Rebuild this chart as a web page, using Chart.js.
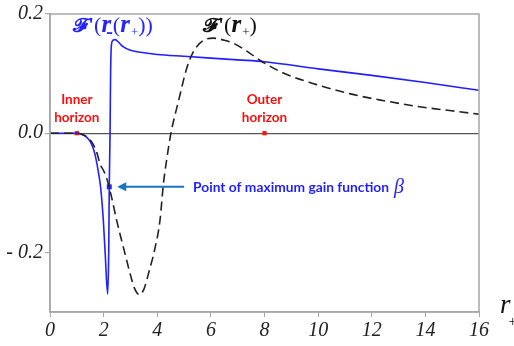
<!DOCTYPE html>
<html>
<head>
<meta charset="utf-8">
<script src="https://cdn.jsdelivr.net/npm/chart.js@4.4.1/dist/chart.umd.min.js"></script>
<style>
  html, body { margin: 0; padding: 0; background: #fff; }
  #wrap { width: 514px; height: 346px; }
</style>
</head>
<body>
<div id="wrap"><canvas id="plot" width="514" height="346"></canvas></div>
<script>
// F'(r-(r+)) : solid blue curve
const innerR = [0, 0.5, 1.0, 1.2, 1.35, 1.49, 1.6, 1.68, 1.8, 1.89, 1.99, 2.06, 2.15, 2.19, 2.21, 2.23, 2.24, 2.26, 2.29, 2.35, 2.43, 2.55, 2.7, 3.0, 3.5, 4, 5, 6, 7, 8, 10, 12, 14, 16];
const innerF = [0, 0, 0, -0.002, -0.006, -0.0134, -0.024, -0.036, -0.064, -0.0915, -0.147, -0.203, -0.27, -0.2, -0.09, -0.03, 0.0, 0.1, 0.148, 0.156, 0.157, 0.153, 0.146, 0.139, 0.135, 0.132, 0.129, 0.126, 0.123, 0.12, 0.108, 0.097, 0.085, 0.072];

// F'(r+) : dashed black curve
const outerR = [0, 0.5, 1.0, 1.2, 1.4, 1.6, 1.75, 1.87, 2.0, 2.11, 2.3, 2.49, 2.74, 2.99, 3.15, 3.33, 3.5, 3.67, 3.92, 4.1, 4.23, 4.38, 4.51, 4.79, 5.1, 5.35, 5.7, 6.08, 6.5, 6.84, 7.46, 7.84, 8.7, 9.95, 11.2, 12.4, 13.7, 14.9, 16];
const outerF = [0, 0, 0, -0.002, -0.007, -0.018, -0.033, -0.052, -0.063, -0.075, -0.108, -0.147, -0.192, -0.236, -0.26, -0.271, -0.262, -0.236, -0.192, -0.147, -0.085, -0.036, 0, 0.0535, 0.109, 0.137, 0.155, 0.1595, 0.156, 0.151, 0.134, 0.122, 0.101, 0.0815, 0.066, 0.055, 0.045, 0.038, 0.032];

// horizons and the point of maximum gain
const horizonR = [1.0, 8.0];
const horizonF = [0, 0];
const gainR = [2.21];
const gainF = [-0.09];

const xTicks = [0, 2, 4, 6, 8, 10, 12, 14, 16];
const yTicks = [-0.2, 0, 0.2];

const pts = (xs, ys) => xs.map((v, i) => ({ x: v, y: ys[i] }));

const SERIF = "'Liberation Serif', 'DejaVu Serif', serif";
const SANS = "Lato, 'Open Sans', sans-serif";

function drawRuns(ctx, x0, base, runs, color) {
  let x = x0;
  ctx.fillStyle = color;
  ctx.textAlign = 'left';
  ctx.textBaseline = 'alphabetic';
  runs.forEach(([t, font, dy = 0, dx = 0]) => {
    ctx.font = font;
    ctx.fillText(t, x + dx, base + dy);
    x += dx + ctx.measureText(t).width;
  });
  return x;
}

const overlay = {
  id: 'overlay',
  afterDatasetsDraw(chart) {
    const { ctx, chartArea: a, scales: { x, y } } = chart;
    ctx.save();

    // frame
    ctx.strokeStyle = '#a6a6a6';
    ctx.lineWidth = 1.5;
    ctx.strokeRect(a.left, a.top, a.right - a.left, a.bottom - a.top);

    // curve titles
    const F = "bold 20px 'DejaVu Serif', serif";
    const P = '22px ' + SERIF;
    const Q = 'bold 22px ' + SERIF;
    const R = 'bold italic 25px ' + SERIF;
    drawRuns(ctx, 73, 32, [
      ['𝓕', F], ["'", Q], ['(', P], ['r', R], ['-', 'bold 20px ' + SERIF, 6, -5],
      ['(', P], ['r', R], ['+', '13px ' + SERIF, 4, 1], ['))', P]
    ], '#2424ff');
    drawRuns(ctx, 203, 32, [
      ['𝓕', F], ["'", Q], ['(', P], ['r', R], ['+', '13px ' + SERIF, 4, 1], [')', P]
    ], '#111');

    // horizon labels
    ctx.fillStyle = '#ff0d0d';
    ctx.font = 'bold 13.5px ' + SANS;
    ctx.textAlign = 'center';
    ctx.textBaseline = 'middle';
    [['Inner', horizonR[0]], ['Outer', horizonR[1]]].forEach(([w, r]) => {
      const px = x.getPixelForValue(r);
      ctx.fillText(w, px, 100);
      ctx.fillText('horizon', px, 118);
    });

    // arrow to the gain point
    const gx = x.getPixelForValue(gainR[0]);
    const gy = y.getPixelForValue(gainF[0]);
    const tip = gx + 8;
    ctx.strokeStyle = '#1a73c8';
    ctx.fillStyle = '#1a73c8';
    ctx.lineWidth = 2;
    ctx.beginPath();
    ctx.moveTo(tip + 6, gy);
    ctx.lineTo(x.getPixelForValue(5.0), gy);
    ctx.stroke();
    ctx.beginPath();
    ctx.moveTo(tip, gy);
    ctx.lineTo(tip + 9, gy - 4.5);
    ctx.lineTo(tip + 9, gy + 4.5);
    ctx.closePath();
    ctx.fill();

    const end = drawRuns(ctx, 193, gy + 5, [
      ['Point of maximum gain function', 'bold 13.8px ' + SANS]
    ], '#1f1fff');
    drawRuns(ctx, end + 5, gy + 6, [['β', 'italic 20px ' + SERIF]], '#1f1fff');

    // axis title r+
    drawRuns(ctx, 500, 313, [['r', 'italic 27px ' + SERIF], ['+', '15px ' + SERIF, 13, -2]], '#111');

    ctx.restore();
  }
};

new Chart(document.getElementById('plot'), {
  type: 'scatter',
  data: {
    datasets: [
      {
        data: pts(outerR, outerF),
        showLine: true,
        borderColor: '#222',
        borderWidth: 1.6,
        borderDash: [9, 5],
        cubicInterpolationMode: 'monotone',
        pointRadius: 0
      },
      {
        data: pts(innerR, innerF),
        showLine: true,
        borderColor: '#1f1fff',
        borderWidth: 1.6,
        cubicInterpolationMode: 'monotone',
        pointRadius: 0
      },
      {
        data: pts(horizonR, horizonF),
        pointStyle: 'rect',
        pointRadius: 3,
        backgroundColor: '#ff1010',
        borderWidth: 0
      },
      {
        data: pts(gainR, gainF),
        pointStyle: 'rect',
        pointRadius: 3.5,
        backgroundColor: '#1f1fff',
        borderWidth: 0
      }
    ]
  },
  options: {
    responsive: false,
    animation: false,
    events: [],
    layout: { padding: { left: 0, top: 11, right: 35, bottom: 0 } },
    plugins: { legend: { display: false }, tooltip: { enabled: false } },
    scales: {
      x: {
        type: 'linear',
        min: 0,
        max: 16,
        afterBuildTicks: s => { s.ticks = xTicks.map(v => ({ value: v })); },
        afterFit: s => { s.height = 34; },
        grid: { color: 'rgba(0,0,0,0)', tickColor: '#a6a6a6', tickLength: 5, drawOnChartArea: false },
        border: { color: '#a6a6a6', width: 1.5 },
        ticks: { color: '#222', padding: 2, font: { family: SERIF, style: 'italic', size: 20 }, maxRotation: 0 }
      },
      y: {
        type: 'linear',
        min: -0.3,
        max: 0.2,
        afterBuildTicks: s => { s.ticks = yTicks.map(v => ({ value: v })); },
        afterFit: s => { s.width = 50; },
        grid: {
          color: c => (c.tick && c.tick.value === 0 ? '#555' : 'rgba(0,0,0,0)'),
          lineWidth: 1.2,
          tickColor: '#a6a6a6',
          tickLength: 5
        },
        border: { color: '#a6a6a6', width: 1.5 },
        ticks: {
          color: '#222',
          padding: 2,
          font: { family: SERIF, style: 'italic', size: 20 },
          callback: v => (v === 0 ? '0.0' : v < 0 ? '- ' + Math.abs(v).toFixed(1) : v.toFixed(1))
        }
      }
    }
  },
  plugins: [overlay]
});
</script>
</body>
</html>
